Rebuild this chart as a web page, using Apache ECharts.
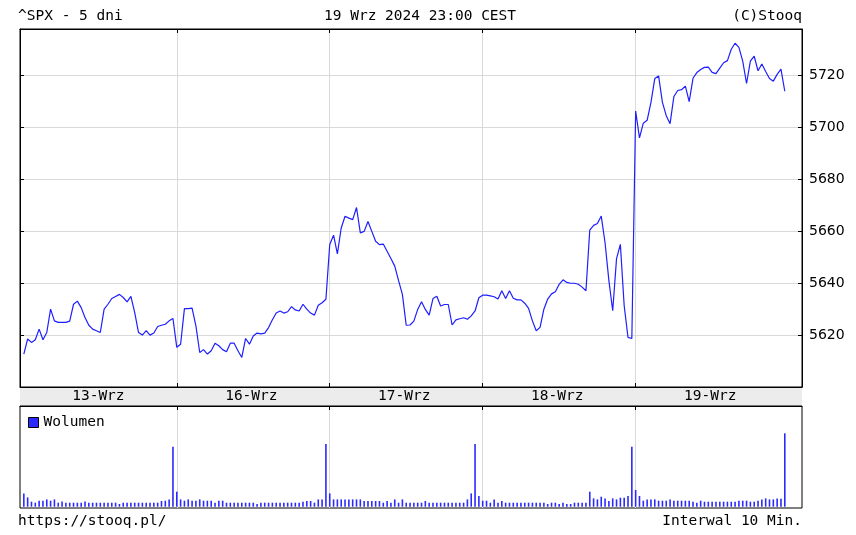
<!DOCTYPE html>
<html><head><meta charset="utf-8">
<script src="https://cdn.jsdelivr.net/npm/echarts@6/dist/echarts.min.js"></script>
<style>html,body{margin:0;padding:0;background:#fff}#c{width:856px;height:535px}</style>
</head><body><div id="c"></div><script>
// ---- data ----
const dayLabels = ['13-Wrz','16-Wrz','17-Wrz','18-Wrz','19-Wrz'];
const price13 = [5612.7,5618.5,5617.2,5618.2,5622.3,5618.2,5621.0,5630.0,5625.5,5624.9,5624.9,5624.9,5625.4,5631.9,5633.1,5630.6,5626.8,5623.8,5622.3,5621.7,5621.0,5630.0,5631.9,5634.1,5634.9,5635.7,5634.5,5632.8,5634.9,5628.7,5621.0,5620.0,5621.7,5620.0,5620.8,5623.3,5623.8,5624.2,5625.5,5626.4];
const price16 = [5615.3,5616.5,5630.2,5630.2,5630.4,5623.6,5613.3,5614.4,5612.7,5614.0,5616.9,5615.9,5614.4,5613.6,5616.9,5616.9,5614.0,5611.4,5618.7,5616.5,5619.7,5620.8,5620.5,5620.8,5622.9,5625.9,5628.5,5629.3,5628.5,5629.0,5631.0,5629.7,5629.3,5631.9,5630.0,5628.5,5627.7,5631.5,5632.5,5633.8];
const price17 = [5654.9,5658.5,5651.3,5661.3,5665.8,5665.1,5664.5,5669.2,5659.4,5660.0,5663.8,5660.0,5656.2,5654.9,5655.1,5652.3,5649.5,5646.6,5641.0,5635.7,5623.8,5623.9,5625.4,5629.9,5632.9,5629.9,5627.7,5634.1,5635.0,5631.2,5631.8,5631.8,5623.9,5625.9,5626.3,5626.7,5626.1,5627.4,5629.3,5634.4];
const price18 = [5635.4,5635.4,5635.1,5634.8,5633.9,5637.1,5634.1,5637.1,5634.2,5633.6,5633.6,5632.3,5630.3,5625.5,5621.7,5623.0,5630.0,5633.9,5635.9,5636.7,5639.6,5641.3,5640.3,5640.0,5640.0,5639.6,5638.5,5637.1,5660.5,5662.3,5663.0,5665.9,5655.6,5641.0,5629.4,5649.5,5655.0,5631.3,5619.1,5618.7];
const price19 = [5706.4,5696.0,5701.7,5702.8,5709.7,5718.9,5719.9,5709.7,5704.6,5701.5,5712.0,5714.3,5714.6,5716.0,5710.0,5719.0,5721.2,5722.4,5723.2,5723.3,5721.3,5720.8,5722.9,5725.0,5725.8,5730.2,5732.5,5730.9,5725.6,5717.0,5725.6,5727.5,5721.9,5724.5,5721.6,5718.9,5717.9,5720.5,5722.5,5714.0];
const vol13 = [13.3,9.3,5,4,6,6,7.3,6,7.3,4,5.3,4,4,4,4,4,5.3,4,4,4,4,4,4,4,4,2.7,4,4,4,4,4,4,4,4,4,4,5.7,6,7.3,60];
const vol16 = [15,7.3,6,7.3,6,6,7.3,6,6,6,4,6,6,4,4,4,4,4,4,4,4,2.7,4,4,4,4,4,4,4,4,4,4,4,5,5.7,5.7,4,7.3,7.3,62.7];
const vol17 = [13.3,7.3,7.3,7.3,7.3,7.3,7.3,7.3,7.3,5.7,5.7,5.7,5.7,5.7,4,5.7,4,7.3,4,7.3,4,4,4,4,4,5.7,4,4,4,4,4,4,4,4,4,4,7.3,13.3,62.7,10.7];
const vol18 = [6,6,4,7.3,4,5.7,4,4,4,4,4,4,4,4,4,4,4,2.7,4,4,2.7,4,2.7,2.7,4,4,4,4,15,8.3,7.3,10,8.3,5.7,8.3,7.3,9,9,10.7,60];
const vol19 = [16.7,10.7,6,7.3,7.3,7.3,6,6,6,7.3,6,6,6,6,6,5,4,6,5,5,5,5,5,5,5,5,5,6,6,6,5,5,6,7.3,8.3,7.3,7.3,8.3,8,73.4];
const priceTicks = [5620,5640,5660,5680,5700,5720];

// ---- build ----
const priceDays = [price13,price16,price17,price18,price19];
const volDays = [vol13,vol16,vol17,vol18,vol19];
const dayStarts = []; let n = 0;
priceDays.forEach(d => { dayStarts.push(n); n += d.length; });
const priceData = [], volData = [];
priceDays.forEach((d,di) => d.forEach((v,k) => priceData.push([dayStarts[di]+k, v])));
volDays.forEach((d,di) => d.forEach((v,k) => volData.push([dayStarts[di]+k, v])));
const boundaries = dayStarts.slice(1);
const labelPos = dayStarts.map((s,i) => s + priceDays[i].length/2 - 0.5);
const xMin = -1, xMax = n + 3.5;

const MONO = 'DejaVu Sans Mono';
const FS = 14.5;
const grid0 = {left:20, right:54, top:29, height:358};
const grid1 = {left:20, right:54, top:406, height:102};
const tickStyle = {show:true, inside:true, length:4, customValues:boundaries, lineStyle:{color:'#000', width:1}};
const splitStyle = {show:true, lineStyle:{color:'#d9d9d9', width:1}};
const lineAx = {show:true, onZero:false, lineStyle:{color:'#000'}};
const txt = {fontFamily:MONO, fontSize:FS, fontWeight:'normal', color:'#000'};

const chart = echarts.init(document.getElementById('c'), null, {renderer:'canvas'});
chart.setOption({
  animation:false,
  backgroundColor:'#fff',
  title:[
    {text:'^SPX - 5 dni', left:18, top:9, padding:0, textStyle:txt},
    {text:'19 Wrz 2024 23:00 CEST', left:324, top:9, padding:0, textStyle:txt},
    {text:'(C)Stooq', right:54, top:9, padding:0, textStyle:txt},
    {text:'https://stooq.pl/', left:18, top:514, padding:0, textStyle:txt},
    {text:'Interwal 10 Min.', right:54, top:514, padding:0, textStyle:txt}
  ],
  legend:{data:['Wolumen'], left:28, top:415, padding:0, itemWidth:10, itemHeight:10, icon:'rect',
    itemStyle:{borderColor:'#000', borderWidth:1},
    textStyle:{fontFamily:MONO, fontSize:FS, color:'#000'}},
  graphic:[{type:'rect', z:-1, shape:{x:20, y:387, width:782, height:19}, style:{fill:'#ececec', stroke:null}}],
  grid:[
    Object.assign({show:true, borderColor:'#000', borderWidth:1, backgroundColor:'transparent'}, grid0),
    Object.assign({show:true, borderColor:'#000', borderWidth:1, backgroundColor:'transparent'}, grid1)
  ],
  xAxis:[
    {type:'value', gridIndex:0, position:'bottom', min:xMin, max:xMax,
      axisLine:lineAx, axisTick:tickStyle, splitLine:splitStyle,
      axisLabel:{show:true, customValues:labelPos, margin:2, fontFamily:MONO, fontSize:FS, color:'#000',
        formatter:v => { const i = labelPos.findIndex(p => Math.abs(p - v) < 0.01); return i >= 0 ? dayLabels[i] : ''; }}},
    {type:'value', gridIndex:0, position:'top', min:xMin, max:xMax,
      axisLine:lineAx, axisTick:tickStyle, splitLine:{show:false}, axisLabel:{show:false}},
    {type:'value', gridIndex:1, position:'top', min:xMin, max:xMax,
      axisLine:lineAx, axisTick:tickStyle, splitLine:splitStyle, axisLabel:{show:false}}
  ],
  yAxis:[
    {type:'value', gridIndex:0, position:'right', min:5600, max:5738, interval:20,
      axisLine:lineAx,
      axisTick:{show:true, inside:true, length:4, lineStyle:{color:'#000'}},
      splitLine:splitStyle,
      axisLabel:{show:true, margin:7, showMinLabel:false, showMaxLabel:false, fontFamily:'DejaVu Sans', fontSize:14, color:'#000',
        formatter:v => String(v)}},
    {type:'value', gridIndex:0, position:'left', min:5600, max:5738, interval:20,
      axisLine:lineAx,
      axisTick:{show:true, inside:true, length:4, lineStyle:{color:'#000'}},
      splitLine:{show:false}, axisLabel:{show:false}},
    {type:'value', gridIndex:1, min:-1.3, max:100.7,
      axisLine:{show:false, onZero:false}, axisTick:{show:false}, splitLine:{show:false}, axisLabel:{show:false}}
  ],
  series:[
    {name:'^SPX', type:'line', xAxisIndex:0, yAxisIndex:0, data:priceData, showSymbol:false,
      lineStyle:{color:'#1e1eff', width:1.2}, itemStyle:{color:'#1e1eff'}},
    {name:'Wolumen', type:'bar', xAxisIndex:2, yAxisIndex:2, data:volData, barWidth:1.6,
      itemStyle:{color:'#2a2aff'}}
  ]
});
</script></body></html>
